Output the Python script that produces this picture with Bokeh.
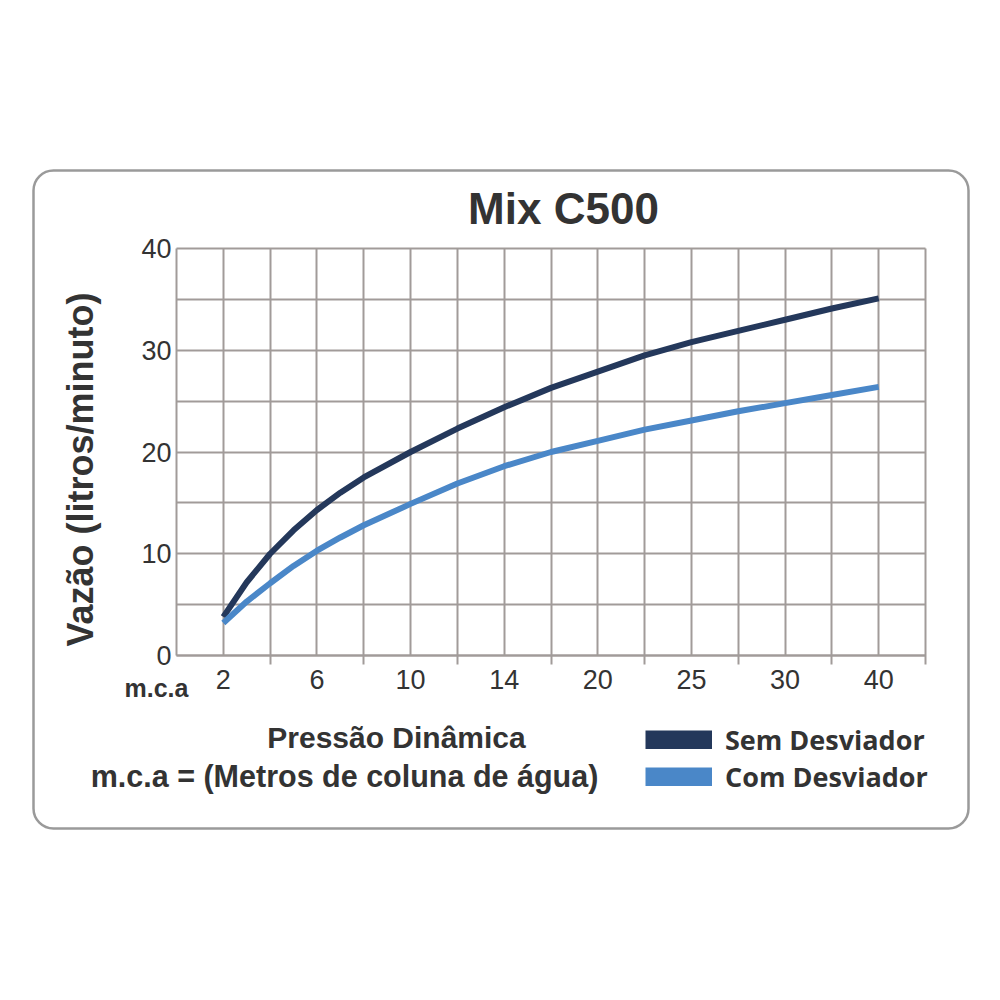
from math import pi

from bokeh.plotting import figure
from bokeh.models import (Range1d, FixedTicker, Label, Legend, LegendItem,
                          BoxAnnotation)
from bokeh.embed import file_html
from bokeh.resources import INLINE

# positions on the grid (one unit per grid column), labelled every other line
grid_pos = [1, 1.5, 2, 2.5, 3, 3.5, 4, 5, 6, 7, 8, 9, 10, 11, 12, 13, 14, 15]
sem_desviador = [3.8, 7.2, 10.0, 12.3, 14.3, 16.0, 17.5, 20.0, 22.3, 24.4, 26.3, 27.9, 29.5, 30.8, 31.9, 33.0, 34.1, 35.1]
com_desviador = [3.2, 5.3, 7.1, 8.8, 10.3, 11.6, 12.8, 14.9, 16.9, 18.6, 20.0, 21.1, 22.2, 23.1, 24.0, 24.8, 25.6, 26.4]

tick_pos = [1, 3, 5, 7, 9, 11, 13, 15]
tick_labels = ['2', '6', '10', '14', '20', '25', '30', '40']
y_ticks = [0, 10, 20, 30, 40]

dark = '#24385b'
light = '#4a87c8'
grid_gray = '#a19b99'
text_col = '#333333'

W, H = 992, 992
# chart area on the canvas
FL, FR, FT, FB = 176, 925, 248, 655
XU = (FR - FL) / 16.0
YU = (FB - FT) / 40.0

def at(px, py):
	# canvas pixel -> data coordinates
	return (px - FL) / XU, (FB - py) / YU

# the frame fills the whole canvas so that texts outside the grid are not clipped
p = figure(width=W, height=H, output_backend="svg", toolbar_location=None,
	x_range=Range1d(-FL / XU, (W - FL) / XU),
	y_range=Range1d((FB - H) / YU, FB / YU),
	min_border=0)
p.outline_line_color = None
p.xgrid.visible = False
p.ygrid.visible = False

# rounded box round the whole chart
x0, y0 = at(33, 170)
x1, y1 = at(968, 828)
p.add_layout(BoxAnnotation(left=x0, right=x1, top=y0, bottom=y1,
	fill_alpha=0, line_color='#9a9a9a', line_alpha=1, line_width=2.5,
	border_radius=20, level='underlay'))

# axes sit on the data origin; their inward ticks draw the grid
xa = p.xaxis[0]
xa.fixed_location = 0
xa.bounds = (0, 16)
xa.ticker = FixedTicker(ticks=tick_pos, minor_ticks=list(range(2, 17, 2)))
xa.major_label_overrides = {t: l for t, l in zip(tick_pos, tick_labels)}
xa.major_tick_out = 0
xa.major_tick_in = FB - FT
xa.minor_tick_out = 9
xa.minor_tick_in = FB - FT
xa.major_label_standoff = 5

ya = p.yaxis[0]
ya.fixed_location = 0
ya.bounds = (0, 40)
ya.ticker = FixedTicker(ticks=y_ticks, minor_ticks=[5, 15, 25, 35])
ya.major_tick_out = 0
ya.major_tick_in = FR - FL
ya.minor_tick_out = 0
ya.minor_tick_in = FR - FL
ya.major_label_standoff = 5

for ax in (xa, ya):
	ax.level = 'underlay'
	ax.axis_line_color = grid_gray
	ax.axis_line_width = 2
	ax.major_tick_line_color = grid_gray
	ax.major_tick_line_width = 2
	ax.minor_tick_line_color = grid_gray
	ax.minor_tick_line_width = 2
	ax.major_label_text_font = 'Liberation Sans'
	ax.major_label_text_font_size = '27px'
	ax.major_label_text_color = text_col

# curves
p.line(grid_pos, sem_desviador, line_color=dark, line_width=6, line_join='round')
p.line(grid_pos, com_desviador, line_color=light, line_width=6, line_join='round')

# legend swatches: hidden thick copies of the curves
sw_sem = p.line(grid_pos, sem_desviador, line_color=dark, line_width=19, visible=False)
sw_com = p.line(grid_pos, com_desviador, line_color=light, line_width=19, visible=False)
legend = Legend(items=[LegendItem(label='Sem Desviador', renderers=[sw_sem]),
	LegendItem(label='Com Desviador', renderers=[sw_com])],
	location=(645, H - 795), orientation='vertical',
	glyph_width=67, glyph_height=19, label_height=35, spacing=0,
	padding=0, margin=0, label_standoff=13,
	border_line_color=None, background_fill_alpha=0,
	inactive_fill_alpha=0,
	label_text_font='Open Sans', label_text_font_style='bold',
	label_text_font_size='27px', label_text_color=text_col)
p.add_layout(legend, 'center')

# texts
def label(text, px, py, size, style='bold', angle=0, font='Liberation Sans'):
	x, y = at(px, py)
	p.add_layout(Label(x=x, y=y, text=text, angle=angle,
		text_font=font, text_font_style=style, text_font_size=size,
		text_color=text_col, text_align='center', text_baseline='middle'))

label('Mix C500', 563, 208, '44px')
label('Vazão (litros/minuto)', 80, 469, '36px', angle=pi / 2)
label('m.c.a', 156, 687, '25px')
label('Pressão Dinâmica', 396, 737, '30px')
label('m.c.a = (Metros de coluna de água)', 344, 775, '30.5px')

open("out.html", "w").write(file_html(p, INLINE))
